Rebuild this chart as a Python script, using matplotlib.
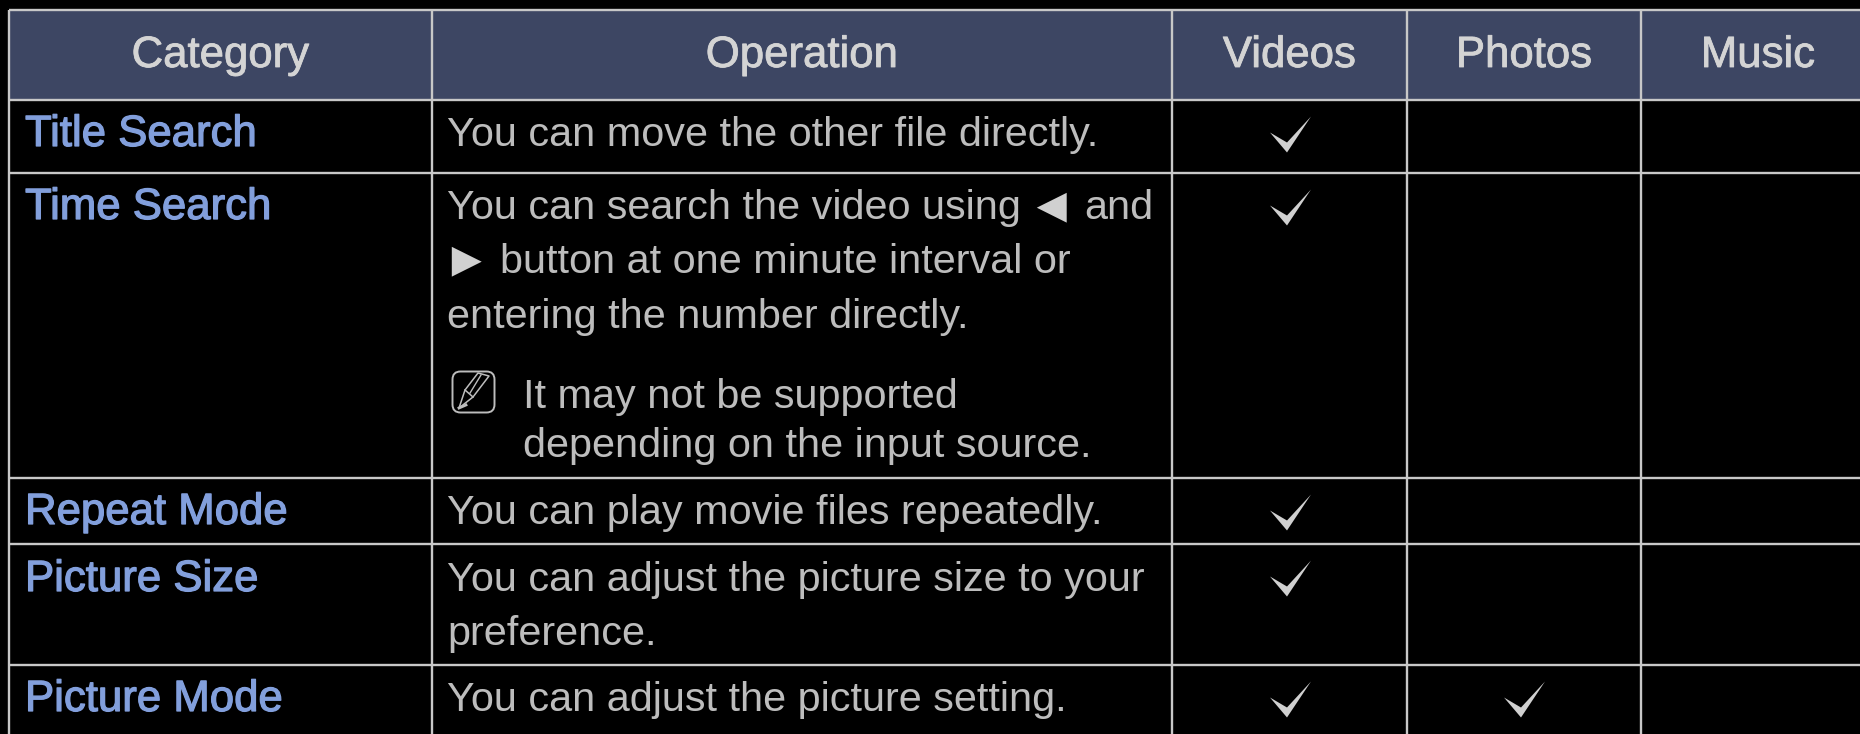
import re
import matplotlib
matplotlib.use('Agg')
import matplotlib.pyplot as plt
import matplotlib.patheffects as pe
from matplotlib.patches import FancyBboxPatch, Rectangle
from matplotlib.path import Path

BG = '#000000'
HEAD_BG = '#3d4663'
GRID = '#c8c8c8'
HEAD_TXT = '#d4d4d4'
CAT_TXT = '#829fdc'
BODY_TXT = '#bdbdbd'

headers = ['Category', 'Operation', 'Videos', 'Photos', 'Music']
categories = ['Title Search', 'Time Search', 'Repeat Mode', 'Picture Size', 'Picture Mode']
operations = [
    ['You can move the other file directly.'],
    ['You can search the video using \u25c4 and',
     '\u25ba button at one minute interval or',
     'entering the number directly.'],
    ['You can play movie files repeatedly.'],
    ['You can adjust the picture size to your', 'preference.'],
    ['You can adjust the picture setting.'],
]
note_lines = ['It may not be supported', 'depending on the input source.']
videos = [1, 1, 1, 1, 1]
photos = [0, 0, 0, 0, 1]
music = [0, 0, 0, 0, 0]

# layout, in pixels of the 1860x734 picture
col_edges = [9, 432, 1172, 1407, 1641, 1875]
row_edges = [10, 100, 173, 478, 544, 665, 734]
op_baselines = [[146], [219, 273, 328], [524], [591, 645], [711]]
cat_baselines = [146, 219, 524, 591, 711]
note_baselines = [408, 457]
# x of the triangle and of the text after it, one pair per line holding a triangle
tri_x = iter([(1026, 1084), (441, 500)])

fig = plt.figure(figsize=(18.6, 7.34), dpi=100, facecolor=BG)
ax = fig.add_axes([0, 0, 1, 1])
ax.set_xlim(0, 1860)
ax.set_ylim(734, 0)
ax.axis('off')

# header band
ax.add_patch(Rectangle((col_edges[0], row_edges[0]), 1860 - col_edges[0], row_edges[1] - row_edges[0],
                       facecolor=HEAD_BG, edgecolor='none', zorder=1))

# grid
ax.hlines(row_edges[:-1], col_edges[0], 1860, color=GRID, linewidth=1.7, zorder=2)
ax.vlines(col_edges[:-1], row_edges[0], 734, color=GRID, linewidth=1.7, zorder=2)

# header text, regular with a thin stroke to get a medium weight
for i, h in enumerate(headers):
    t = ax.text((col_edges[i] + col_edges[i + 1]) / 2., 67, h, ha='center', va='baseline',
                family='Liberation Sans', fontsize=31.5, color=HEAD_TXT, zorder=3)
    t.set_path_effects([pe.withStroke(linewidth=0.6, foreground=HEAD_TXT)])

# body text
body_font = {'family': 'Liberation Sans', 'fontsize': 29.8, 'color': BODY_TXT}
for cat, y in zip(categories, cat_baselines):
    t = ax.text(25, y, cat, ha='left', va='baseline', family='Liberation Sans',
                fontsize=31.5, color=CAT_TXT, zorder=3)
    t.set_path_effects([pe.withStroke(linewidth=0.9, foreground=CAT_TXT)])
for lines, ys in zip(operations, op_baselines):
    for line, y in zip(lines, ys):
        parts = re.split('([\u25c4\u25ba])', line)
        if len(parts) == 1:
            ax.text(447, y, line, ha='left', va='baseline', zorder=3, **body_font)
            continue
        # triangles are bigger than the ones in the font at text size
        x_tri, x_after = next(tri_x)
        if parts[0].strip():
            ax.text(447, y, parts[0].strip(), ha='left', va='baseline', zorder=3, **body_font)
        ax.text(x_tri, y + 2, parts[1], ha='left', va='baseline', family='Liberation Sans',
                fontsize=36, color='#d0d0d0', zorder=3)
        ax.text(x_after, y, parts[2].strip(), ha='left', va='baseline', zorder=3, **body_font)
for line, y in zip(note_lines, note_baselines):
    ax.text(523, y, line, ha='left', va='baseline', zorder=3, **body_font)

# note icon
ax.add_patch(FancyBboxPatch((456, 375), 35, 34, boxstyle='round,pad=3.5,rounding_size=8',
                            facecolor='none', edgecolor=BODY_TXT, linewidth=1.4, zorder=3))
ax.plot([459, 465, 478, 489, 473, 459], [408, 390, 373, 376, 397, 408], color=BODY_TXT, linewidth=1.1, zorder=3)
ax.plot([465, 473], [390, 397], color=BODY_TXT, linewidth=1.1, zorder=3)
ax.plot([470, 481], [393, 375], color=BODY_TXT, linewidth=1.0, zorder=3)
ax.plot([459, 466], [408, 405], color=BODY_TXT, linewidth=2.0, zorder=3)

# check marks
check = Path([(-20.5, 2), (-3.5, -18), (20.5, 18), (-3.5, -8), (-20.5, 2)], closed=True)
check_y = [row_edges[r] for r in [1, 2, 3, 4, 5]]
for c, values in zip([2, 3, 4], [videos, photos, music]):
    xs = [(col_edges[c] + col_edges[c + 1]) / 2. for v in values if v]
    ys = [top + 34 for top, v in zip(check_y, values) if v]
    ax.scatter(xs, ys, marker=check, s=871, color='#d0d0d0', linewidths=0, zorder=3)

fig.savefig('out.png', dpi=100, facecolor=BG)
